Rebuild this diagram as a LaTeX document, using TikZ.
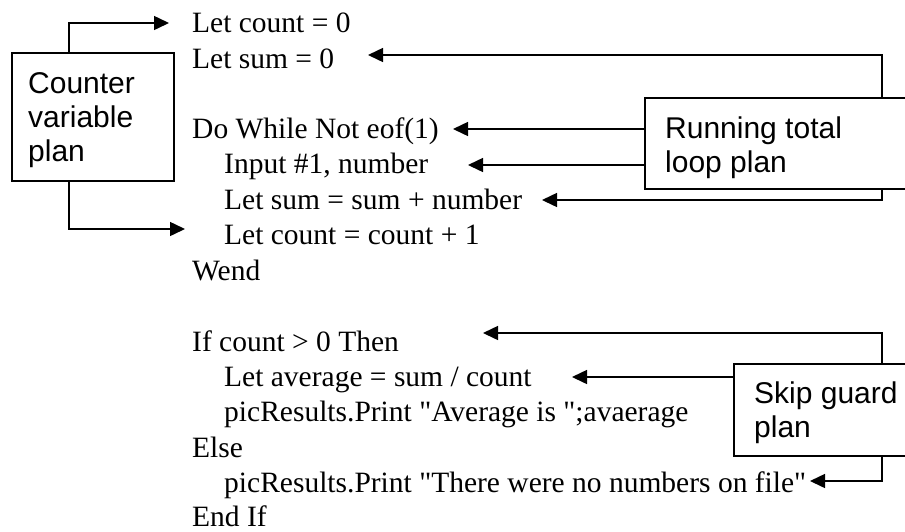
\documentclass[tikz,border=0pt]{standalone}
\usepackage{fontspec}
\setmainfont{Liberation Serif}[Ligatures=TeXOff]
\newfontfamily\arialfont{Liberation Sans}
\usetikzlibrary{arrows.meta}
\tikzset{
  code/.style={anchor=base west, inner sep=0pt, font=\fontsize{29.5}{35}\selectfont},
  lbl/.style={anchor=base west, inner sep=0pt, font=\arialfont\fontsize{30}{34}\selectfont},
  planbox/.style={draw, line width=2pt, fill=white, anchor=north west, inner sep=0pt},
  arr/.style={line width=1.5pt, -{Triangle[length=15pt,width=14pt]}},
}
\begin{document}
\begin{tikzpicture}[x=1pt,y=-1pt]
\useasboundingbox (0,0) rectangle (905,531);
\clip (0,0) rectangle (905,531);
% code lines
\node[code] (l0) at (192,32) {Let count = 0};
\node[code] (l1) at (192,68) {Let sum = 0};
\node[code] (l3) at (192,138) {Do While Not eof(1)};
\node[code] (l4) at (224,173) {Input \#1, number};
\node[code] (l5) at (224,209) {Let sum = sum + number};
\node[code] (l6) at (224,244) {Let count = count + 1};
\node[code] (l7) at (192,280) {Wend};
\node[code] (l9) at (192,351) {If count > 0 Then};
\node[code] (l10) at (224,386) {Let average = sum / count};
\node[code] (l11) at (224,421) {picResults.Print "Average is ";avaerage};
\node[code] (l12) at (192,457) {Else};
\node[code] (l13) at (224,492) {picResults.Print "There were no numbers on file"};
\node[code] (l14) at (192,526) {End If};
% boxes
\node[planbox, minimum width=162pt, minimum height=128pt] (cv) at (11,52) {};
\node[lbl] (cvt1) at (28,93) {Counter};
\node[lbl] (cvt2) at (28,127) {variable};
\node[lbl] (cvt3) at (28,161) {plan};
\node[planbox, minimum width=300pt, minimum height=91pt] (rt) at (644,97) {};
\node[lbl] (rtt1) at (665,138) {Running total};
\node[lbl] (rtt2) at (665,172) {loop plan};
\node[planbox, minimum width=250pt, minimum height=92pt] (sg) at (733,363) {};
\node[lbl] (sgt1) at (754,403) {Skip guard};
\node[lbl] (sgt2) at (754,437) {plan};
% arrow tips
\coordinate (c1) at (169,23);
\coordinate (c2) at (185,229);
\coordinate (r0) at (368,55);
\coordinate (r1) at (453,129);
\coordinate (r2) at (468,165);
\coordinate (r3) at (542,200);
\coordinate (s0) at (483,333);
\coordinate (s1) at (572,377);
\coordinate (s3) at (810,481);
% connectors
\draw[arr] ([xshift=58pt]cv.north west) |- (c1);
\draw[arr] ([xshift=58pt]cv.south west) |- (c2);
\draw[arr] ([xshift=238pt]rt.north west) |- (r0);
\draw[arr] (rt.west |- r1) -- (r1);
\draw[arr] (rt.west |- r2) -- (r2);
\draw[arr] ([xshift=238pt]rt.south west) |- (r3);
\draw[arr] ([xshift=149pt]sg.north west) |- (s0);
\draw[arr] (sg.west |- s1) -- (s1);
\draw[arr] ([xshift=149pt]sg.south west) |- (s3);
\end{tikzpicture}
\end{document}
